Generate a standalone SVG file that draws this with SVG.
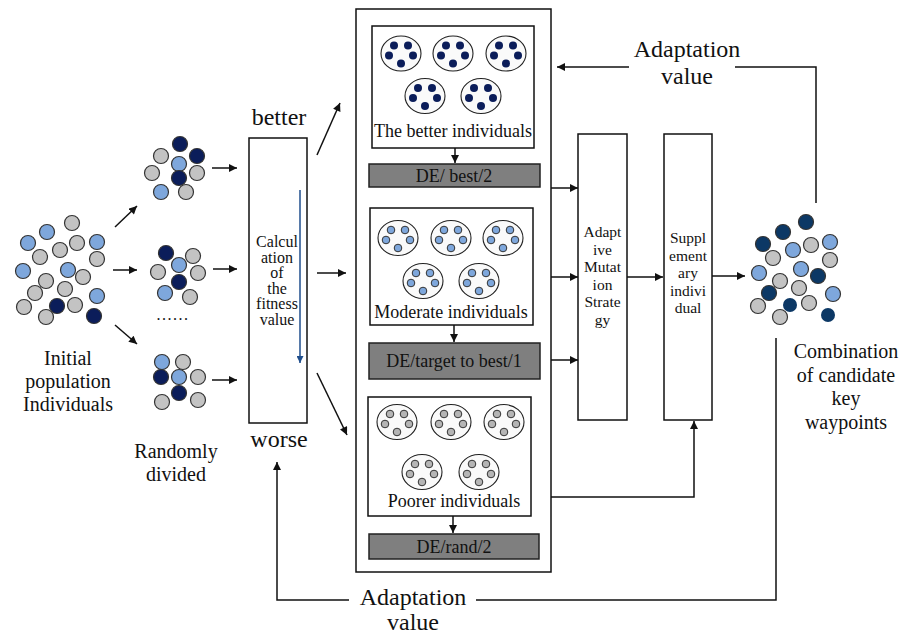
<svg xmlns="http://www.w3.org/2000/svg" width="904" height="637" viewBox="0 0 904 637">
<style>
.box{fill:#fff;stroke:#111;stroke-width:1.5}
.de{fill:#7f7f7f;stroke:#222;stroke-width:1.5}
.ind{fill:#fafafa;stroke:#222;stroke-width:1.1}
.g{fill:#c3c3c3;stroke:#333;stroke-width:1.2}
.l{fill:#7ea7dc;stroke:#333;stroke-width:1.2}
.d{fill:#0b1d5a;stroke:#333;stroke-width:1.2}
.d2{fill:#0c3865;stroke:#333;stroke-width:1.2}
.d3{fill:#0c3865}
.t{font-family:"Liberation Serif","Times New Roman",serif;fill:#111;text-anchor:middle}
.conn{stroke:#111;stroke-width:1.5;fill:none}
</style>
<defs>
<marker id="ah" viewBox="0 0 10 10" refX="10" refY="5" markerWidth="9" markerHeight="8" markerUnits="userSpaceOnUse" orient="auto"><path d="M0,0 L10,5 L0,10 z" fill="#111"/></marker>
<marker id="ahb" viewBox="0 0 10 10" refX="10" refY="5" markerWidth="8" markerHeight="7" markerUnits="userSpaceOnUse" orient="auto"><path d="M0,0 L10,5 L0,10 z" fill="#1f4e8c"/></marker>
<g id="cb"><ellipse class="ind" rx="20" ry="17.5"/><g fill="#0b1d5a"><circle cx="-7" cy="-8" r="4"/><circle cx="7" cy="-8" r="4"/><circle cx="-12" cy="2" r="4"/><circle cx="12" cy="2" r="4"/><circle cx="0" cy="10" r="4"/></g></g>
<g id="cm"><ellipse class="ind" rx="20" ry="17.5"/><g fill="#7ea7dc" stroke="#333" stroke-width="1"><circle cx="-7" cy="-8" r="3.8"/><circle cx="7" cy="-8" r="3.8"/><circle cx="-12" cy="2" r="3.8"/><circle cx="12" cy="2" r="3.8"/><circle cx="0" cy="10" r="3.8"/></g></g>
<g id="cp"><ellipse class="ind" rx="20" ry="17.5"/><g fill="#b5b5b5" stroke="#333" stroke-width="1"><circle cx="-7" cy="-8" r="3.8"/><circle cx="7" cy="-8" r="3.8"/><circle cx="-12" cy="2" r="3.8"/><circle cx="12" cy="2" r="3.8"/><circle cx="0" cy="10" r="3.8"/></g></g>
</defs>

<g id="initial-population">
<circle class="g" cx="72" cy="223" r="7.5"/><circle class="l" cx="47" cy="232" r="7.5"/><circle class="l" cx="28" cy="243" r="7.5"/>
<circle class="g" cx="77" cy="243" r="7.5"/><circle class="g" cx="60" cy="250" r="7.5"/><circle class="l" cx="97" cy="242" r="7.5"/>
<circle class="g" cx="40" cy="257" r="7.5"/><circle class="g" cx="97" cy="259" r="7.5"/><circle class="l" cx="23" cy="271" r="7.5"/>
<circle class="l" cx="68" cy="270" r="7.5"/><circle class="g" cx="83" cy="277" r="7.5"/><circle class="g" cx="46" cy="281" r="7.5"/>
<circle class="g" cx="65" cy="289" r="7.5"/><circle class="g" cx="35" cy="293" r="7.5"/><circle class="l" cx="97" cy="296" r="7.5"/>
<circle class="g" cx="24" cy="307" r="7.5"/><circle class="d" cx="57" cy="306" r="7.5"/><circle class="g" cx="75" cy="305" r="7.5"/>
<circle class="g" cx="46" cy="317" r="7.5"/><circle class="d" cx="94" cy="316" r="7.5"/>
<text class="t" font-size="20" x="68" y="365">Initial</text>
<text class="t" font-size="20" x="68" y="388">population</text>
<text class="t" font-size="20" x="68" y="411">Individuals</text>
</g>

<g id="group-1">
<circle class="d" cx="180" cy="144" r="7.5"/><circle class="g" cx="161" cy="156" r="7.5"/><circle class="d" cx="197" cy="156" r="7.5"/>
<circle class="l" cx="179" cy="164" r="7.5"/><circle class="g" cx="152" cy="173" r="7.5"/><circle class="g" cx="197" cy="173" r="7.5"/>
<circle class="d" cx="179" cy="178" r="7.5"/><circle class="l" cx="161" cy="192" r="7.5"/><circle class="g" cx="186" cy="192" r="7.5"/>
</g>
<g id="group-2">
<circle class="d" cx="166" cy="253" r="7.5"/><circle class="g" cx="193" cy="256" r="7.5"/><circle class="l" cx="179" cy="265" r="7.5"/>
<circle class="g" cx="158" cy="272" r="7.5"/><circle class="g" cx="198" cy="273" r="7.5"/><circle class="d" cx="179" cy="282" r="7.5"/>
<circle class="l" cx="165" cy="293" r="7.5"/><circle class="g" cx="190" cy="297" r="7.5"/>
<text class="t" font-size="16" x="173" y="320" letter-spacing="1.5">......</text>
</g>
<g id="group-3">
<circle class="l" cx="162" cy="362" r="7.5"/><circle class="g" cx="183" cy="362" r="7.5"/><circle class="d" cx="161" cy="377" r="7.5"/>
<circle class="l" cx="179" cy="377" r="7.5"/><circle class="g" cx="198" cy="377" r="7.5"/><circle class="d" cx="179" cy="393" r="7.5"/>
<circle class="g" cx="162" cy="402" r="7.5"/><circle class="g" cx="198" cy="400" r="7.5"/>
<text class="t" font-size="20" x="176" y="458">Randomly</text>
<text class="t" font-size="20" x="176" y="481">divided</text>
</g>

<g id="fitness">
<rect class="box" x="249" y="138" width="58" height="285"/>
<text class="t" font-size="24" x="279" y="125">better</text>
<text class="t" font-size="24" x="279" y="447">worse</text>
<g class="t" font-size="16">
<text x="277" y="247">Calcul</text><text x="277" y="262.5">ation</text><text x="277" y="278">of</text>
<text x="277" y="293.5">the</text><text x="277" y="309">fitness</text><text x="277" y="324.5">value</text>
</g>
<line x1="300" y1="190" x2="300" y2="363" stroke="#1f4e8c" stroke-width="1.5" marker-end="url(#ahb)"/>
</g>

<g id="strategies">
<rect class="box" x="356" y="9" width="195" height="563"/>
</g>
<g id="better-individuals">
<rect class="box" x="372" y="26" width="162" height="122"/>
<use href="#cb" x="401" y="53.5"/><use href="#cb" x="453" y="53.5"/><use href="#cb" x="506" y="53.5"/>
<use href="#cb" x="425" y="96"/><use href="#cb" x="481" y="96"/>
<text class="t" font-size="18" x="453" y="137">The better individuals</text>
</g>
<g id="de-best-2">
<rect class="de" x="369" y="164" width="171" height="23"/>
<text class="t" font-size="18" x="454" y="181.5">DE/ best/2</text>
</g>
<g id="moderate-individuals">
<rect class="box" x="370" y="208" width="163" height="117"/>
<use href="#cm" x="398" y="238"/><use href="#cm" x="451" y="238"/><use href="#cm" x="503" y="238"/>
<use href="#cm" x="423" y="281"/><use href="#cm" x="479" y="281"/>
<text class="t" font-size="18" x="451" y="318">Moderate individuals</text>
</g>
<g id="de-target">
<rect class="de" x="369" y="343" width="171" height="36"/>
<text class="t" font-size="18" x="454" y="367">DE/target to best/1</text>
</g>
<g id="poorer-individuals">
<rect class="box" x="368" y="397" width="163" height="119"/>
<use href="#cp" x="397" y="422"/><use href="#cp" x="451" y="422"/><use href="#cp" x="504" y="422"/>
<use href="#cp" x="422" y="472"/><use href="#cp" x="479" y="472"/>
<text class="t" font-size="18" x="454" y="507">Poorer individuals</text>
</g>
<g id="de-rand-2">
<rect class="de" x="369" y="534" width="170" height="25"/>
<text class="t" font-size="18" x="454" y="553">DE/rand/2</text>
</g>

<g id="adaptive">
<rect class="box" x="578" y="134" width="49" height="286"/>
<g class="t" font-size="15.5">
<text x="602.5" y="237">Adapt</text><text x="602.5" y="254.5">ive</text><text x="602.5" y="272">Mutat</text>
<text x="602.5" y="289.5">ion</text><text x="602.5" y="307">Strate</text><text x="602.5" y="324.5">gy</text>
</g>
</g>
<g id="supplementary">
<rect class="box" x="664" y="134" width="48" height="286"/>
<g class="t" font-size="15.5">
<text x="688" y="243">Suppl</text><text x="688" y="260.5">ement</text><text x="688" y="278">ary</text>
<text x="688" y="295.5">indivi</text><text x="688" y="313">dual</text>
</g>
</g>

<g id="combination">
<circle class="d2" cx="806" cy="222" r="7.5"/><circle class="d2" cx="783" cy="232" r="7.5"/><circle class="d2" cx="763" cy="244" r="7.5"/>
<circle class="l" cx="793" cy="250" r="7.5"/><circle class="g" cx="811" cy="245" r="7.5"/><circle class="l" cx="830" cy="242" r="7.5"/>
<circle class="g" cx="773" cy="258" r="7.5"/><circle class="g" cx="830" cy="260" r="7.5"/><circle class="l" cx="759" cy="273" r="7.5"/>
<circle class="l" cx="801" cy="269" r="7.5"/><circle class="d2" cx="818" cy="276" r="7.5"/><circle class="g" cx="780" cy="281" r="7.5"/>
<circle class="g" cx="799" cy="288" r="7.5"/><circle class="d2" cx="769" cy="293" r="7.5"/><circle class="l" cx="833" cy="294" r="7.5"/>
<circle class="g" cx="758" cy="306" r="7.5"/><circle class="d3" cx="790" cy="305" r="7"/><circle class="g" cx="809" cy="303" r="7.5"/>
<circle class="g" cx="780" cy="317" r="7.5"/><circle class="d3" cx="828" cy="315" r="7"/>
<text class="t" font-size="20" x="846" y="358">Combination</text>
<text class="t" font-size="20" x="846" y="381.5">of candidate</text>
<text class="t" font-size="20" x="846" y="405">key</text>
<text class="t" font-size="20" x="846" y="428.5">waypoints</text>
</g>

<g id="feedback-labels">
<text class="t" font-size="24" x="687" y="57">Adaptation</text>
<text class="t" font-size="24" x="687" y="84">value</text>
<text class="t" font-size="24" x="413" y="605">Adaptation</text>
<text class="t" font-size="24" x="413" y="630">value</text>
</g>

<g id="connectors" class="conn">
<line x1="115" y1="227" x2="137" y2="206" marker-end="url(#ah)"/>
<line x1="113" y1="270" x2="137" y2="270" marker-end="url(#ah)"/>
<line x1="115" y1="325" x2="137" y2="344" marker-end="url(#ah)"/>
<line x1="212" y1="168" x2="237" y2="168" marker-end="url(#ah)"/>
<line x1="213" y1="269" x2="237" y2="269" marker-end="url(#ah)"/>
<line x1="212" y1="380" x2="237" y2="380" marker-end="url(#ah)"/>
<line x1="317" y1="155" x2="340" y2="103" marker-end="url(#ah)"/>
<line x1="317" y1="273" x2="346" y2="273" marker-end="url(#ah)"/>
<line x1="317" y1="373" x2="347" y2="435" marker-end="url(#ah)"/>
<line x1="455" y1="148" x2="455" y2="163" marker-end="url(#ah)"/>
<line x1="454" y1="325" x2="454" y2="342" marker-end="url(#ah)"/>
<line x1="453" y1="516" x2="453" y2="533" marker-end="url(#ah)"/>
<line x1="551" y1="188" x2="578" y2="188" marker-end="url(#ah)"/>
<line x1="551" y1="277" x2="578" y2="277" marker-end="url(#ah)"/>
<line x1="551" y1="360" x2="578" y2="360" marker-end="url(#ah)"/>
<line x1="627" y1="277" x2="663" y2="277" marker-end="url(#ah)"/>
<line x1="712" y1="276" x2="745" y2="276" marker-end="url(#ah)"/>
<polyline points="551,497 694,497 694,421" marker-end="url(#ah)"/>
<polyline points="816,203 816,67 735,67"/>
<line x1="629" y1="67" x2="557" y2="67" marker-end="url(#ah)"/>
<polyline points="776,338 776,600 476,600"/>
<polyline points="349,600 277,600 277,462" marker-end="url(#ah)"/>
</g>
</svg>
